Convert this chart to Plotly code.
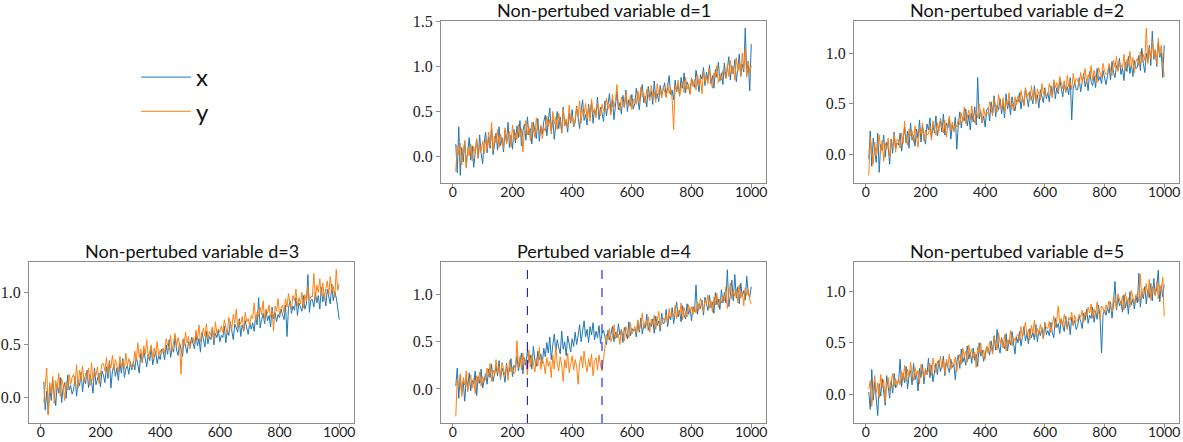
import plotly.graph_objects as go

# time index (every 5th step of the 1000-step series)
t = list(range(10, 1001, 5))

titles = ["Non-pertubed variable d=1", "Non-pertubed variable d=2",
          "Non-pertubed variable d=3", "Pertubed variable d=4",
          "Non-pertubed variable d=5"]
series_names = ["x", "y"]
x_ticks = [0, 200, 400, 600, 800, 1000]
perturb_bounds = [250, 500]

d1_x = [0.14, -0.18, 0.33, -0.21, 0.10, -0.06, 0.17, -0.10, 0.05, 0.21, -0.04, 0.12, -0.12, 0.08, 0.19, -0.02, 0.24, 0.03, -0.08, 0.15,
        0.27, 0.04, 0.22, 0.09, 0.31, 0.02, 0.18, 0.26, 0.07, 0.33, 0.12, 0.21, 0.05, 0.29, 0.16, 0.38, 0.10, 0.24, 0.08, 0.30,
        0.15, 0.34, 0.21, 0.40, 0.12, 0.29, 0.36, 0.18, 0.44, 0.24, 0.31, 0.14, 0.38, 0.27, 0.20, 0.42, 0.17, 0.33, 0.25, 0.39,
        0.46, 0.23, 0.39, 0.54, 0.28, 0.41, 0.19, 0.36, 0.50, 0.31, 0.44, 0.26, 0.55, 0.34, 0.40, 0.27, 0.48, 0.37, 0.52, 0.33,
        0.38, 0.56, 0.42, 0.31, 0.51, 0.63, 0.40, 0.47, 0.35, 0.58, 0.44, 0.61, 0.37, 0.53, 0.46, 0.66, 0.41, 0.55, 0.49, 0.39,
        0.62, 0.45, 0.58, 0.70, 0.49, 0.64, 0.41, 0.57, 0.72, 0.52, 0.60, 0.47, 0.68, 0.55, 0.74, 0.50, 0.63, 0.56, 0.69, 0.53,
        0.59, 0.76, 0.63, 0.52, 0.71, 0.80, 0.60, 0.67, 0.55, 0.78, 0.66, 0.73, 0.58, 0.84, 0.64, 0.70, 0.61, 0.79, 0.68, 0.75,
        0.82, 0.66, 0.77, 0.90, 0.69, 0.74, 0.63, 0.85, 0.72, 0.80, 0.67, 0.88, 0.76, 0.93, 0.71, 0.83, 0.78, 0.70, 0.87, 0.81,
        0.77, 0.96, 0.83, 0.72, 0.91, 0.86, 0.99, 0.79, 0.94, 0.85, 1.02, 0.81, 0.90, 0.76, 0.97, 0.88, 1.05, 0.84, 0.93, 0.80,
        1.04, 0.87, 0.98, 1.11, 0.85, 1.01, 0.92, 1.08, 0.83, 0.97, 1.14, 0.89, 1.03, 0.94, 1.43, 0.91, 1.06, 0.73, 1.25]
d1_y = [-0.17, 0.12, 0.02, 0.15, -0.09, 0.07, 0.18, -0.13, 0.09, 0.01, 0.14, -0.05, 0.11, 0.04, 0.20, -0.02, 0.13, 0.06, 0.17, 0.03,
        0.19, 0.08, 0.27, 0.12, 0.38, 0.06, 0.23, 0.15, 0.30, 0.10, 0.25, 0.17, 0.09, 0.32, 0.14, 0.22, 0.28, 0.11, 0.35, 0.18,
        0.26, 0.19, 0.36, 0.22, 0.31, 0.05, 0.29, 0.40, 0.24, 0.33, 0.17, 0.38, 0.27, 0.21, 0.43, 0.30, 0.25, 0.35, 0.20, 0.32,
        0.28, 0.45, 0.33, 0.41, 0.25, 0.50, 0.36, 0.44, 0.30, 0.48, 0.39, 0.27, 0.53, 0.35, 0.42, 0.32, 0.57, 0.38, 0.46, 0.34,
        0.41, 0.55, 0.44, 0.62, 0.37, 0.52, 0.47, 0.59, 0.42, 0.56, 0.39, 0.64, 0.48, 0.53, 0.43, 0.60, 0.50, 0.45, 0.58, 0.51,
        0.49, 0.65, 0.53, 0.58, 0.46, 0.69, 0.55, 0.62, 0.80, 0.57, 0.51, 0.66, 0.59, 0.54, 0.71, 0.60, 0.56, 0.68, 0.52, 0.63,
        0.64, 0.58, 0.73, 0.61, 0.77, 0.66, 0.70, 0.59, 0.75, 0.68, 0.62, 0.79, 0.67, 0.72, 0.60, 0.81, 0.69, 0.74, 0.65, 0.78,
        0.73, 0.66, 0.81, 0.70, 0.76, 0.64, 0.30, 0.79, 0.72, 0.85, 0.68, 0.77, 0.83, 0.71, 0.88, 0.75, 0.80, 0.69, 0.86, 0.78,
        0.86, 0.74, 0.91, 0.79, 0.87, 0.70, 0.95, 0.83, 0.89, 0.81, 0.98, 0.84, 0.76, 0.93, 0.88, 1.01, 0.82, 0.90, 0.85, 0.96,
        0.94, 0.87, 1.02, 0.89, 1.07, 0.92, 0.99, 0.85, 1.10, 0.95, 1.04, 0.90, 1.15, 0.97, 1.20, 0.88, 1.05, 0.93, 1.01]

d2_x = [-0.05, 0.23, -0.12, 0.16, 0.02, -0.08, 0.21, -0.18, 0.10, 0.04, 0.19, -0.03, 0.12, 0.07, -0.10, 0.15, 0.01, 0.22, 0.06, 0.11,
        0.09, 0.21, 0.03, 0.17, 0.27, 0.11, 0.23, 0.06, 0.31, 0.14, 0.19, 0.08, 0.25, 0.16, 0.34, 0.12, 0.28, 0.18, 0.10, 0.30,
        0.24, 0.36, 0.16, 0.29, 0.21, 0.38, 0.18, 0.27, 0.33, 0.22, 0.40, 0.19, 0.31, 0.26, 0.35, 0.15, 0.29, 0.23, 0.37, 0.05,
        0.30, 0.42, 0.26, 0.37, 0.33, 0.45, 0.28, 0.39, 0.24, 0.41, 0.32, 0.47, 0.29, 0.76, 0.35, 0.43, 0.31, 0.38, 0.27, 0.44,
        0.46, 0.33, 0.52, 0.41, 0.58, 0.37, 0.49, 0.44, 0.55, 0.40, 0.51, 0.36, 0.60, 0.45, 0.53, 0.39, 0.57, 0.48, 0.43, 0.54,
        0.52, 0.61, 0.45, 0.57, 0.49, 0.65, 0.54, 0.47, 0.62, 0.56, 0.50, 0.68, 0.53, 0.59, 0.46, 0.64, 0.58, 0.51, 0.66, 0.55,
        0.61, 0.52, 0.68, 0.58, 0.72, 0.55, 0.66, 0.60, 0.74, 0.63, 0.57, 0.70, 0.62, 0.67, 0.59, 0.76, 0.34, 0.65, 0.71, 0.64,
        0.64, 0.76, 0.62, 0.71, 0.80, 0.67, 0.74, 0.63, 0.82, 0.72, 0.68, 0.78, 0.66, 0.85, 0.73, 0.77, 0.70, 0.83, 0.75, 0.69,
        0.78, 0.87, 0.74, 0.92, 0.81, 0.76, 0.88, 0.84, 0.95, 0.79, 0.86, 0.73, 0.91, 0.82, 0.97, 0.80, 0.89, 0.77, 0.93, 0.85,
        0.86, 0.98, 0.83, 1.05, 0.90, 0.81, 1.00, 0.92, 1.08, 0.88, 1.22, 0.94, 1.03, 0.87, 1.10, 0.96, 1.01, 0.76, 1.08]
d2_y = [-0.21, 0.17, 0.03, -0.10, 0.12, -0.02, 0.09, 0.19, 0.01, 0.14, -0.07, 0.11, 0.05, 0.16, -0.04, 0.13, 0.08, 0.20, 0.02, 0.15,
        0.14, 0.06, 0.21, 0.11, 0.33, 0.15, 0.09, 0.25, 0.18, 0.23, 0.12, 0.28, 0.17, 0.07, 0.26, 0.20, 0.31, 0.13, 0.24, 0.19,
        0.20, 0.28, 0.14, 0.33, 0.25, 0.19, 0.31, 0.23, 0.36, 0.26, 0.21, 0.34, 0.17, 0.29, 0.38, 0.24, 0.32, 0.22, 0.30, 0.27,
        0.35, 0.29, 0.41, 0.33, 0.47, 0.30, 0.39, 0.44, 0.34, 0.48, 0.37, 0.31, 0.43, 0.36, 0.50, 0.40, 0.32, 0.46, 0.38, 0.42,
        0.40, 0.52, 0.45, 0.38, 0.55, 0.47, 0.42, 0.59, 0.50, 0.44, 0.56, 0.41, 0.53, 0.48, 0.61, 0.46, 0.51, 0.43, 0.57, 0.49,
        0.58, 0.51, 0.63, 0.55, 0.48, 0.66, 0.57, 0.61, 0.53, 0.68, 0.56, 0.62, 0.50, 0.65, 0.59, 0.54, 0.70, 0.60, 0.64, 0.57,
        0.59, 0.70, 0.63, 0.56, 0.74, 0.66, 0.71, 0.62, 0.77, 0.69, 0.65, 0.73, 0.61, 0.78, 0.67, 0.72, 0.64, 0.80, 0.70, 0.75,
        0.74, 0.68, 0.81, 0.72, 0.77, 0.85, 0.70, 0.79, 0.75, 0.88, 0.73, 0.83, 0.78, 0.71, 0.86, 0.80, 0.76, 0.90, 0.82, 0.79,
        0.80, 0.90, 0.84, 0.78, 0.93, 0.86, 0.97, 0.82, 0.91, 0.89, 0.85, 0.99, 0.83, 0.94, 0.88, 1.02, 0.87, 0.96, 0.81, 0.92,
        0.95, 0.88, 1.02, 0.91, 0.99, 0.93, 1.25, 0.90, 1.06, 0.94, 1.12, 0.97, 1.04, 0.89, 1.15, 0.98, 1.08, 0.92, 0.77]

d3_x = [0.15, -0.12, 0.06, -0.16, 0.10, -0.03, 0.17, 0.02, -0.08, 0.12, 0.04, 0.19, -0.05, 0.09, 0.14, -0.01, 0.21, 0.07, 0.11, 0.03,
        0.07, 0.20, 0.01, 0.16, 0.11, 0.24, 0.05, 0.19, 0.13, 0.26, 0.09, 0.22, 0.15, 0.04, 0.28, 0.12, 0.18, 0.23, 0.10, 0.25,
        0.21, 0.14, 0.29, 0.18, 0.35, 0.09, 0.25, 0.31, 0.20, 0.28, 0.16, 0.33, 0.23, 0.37, 0.19, 0.27, 0.30, 0.22, 0.34, 0.26,
        0.34, 0.26, 0.39, 0.30, 0.23, 0.42, 0.33, 0.45, 0.37, 0.29, 0.41, 0.35, 0.48, 0.31, 0.38, 0.44, 0.32, 0.40, 0.36, 0.46,
        0.44, 0.36, 0.50, 0.41, 0.55, 0.38, 0.47, 0.43, 0.58, 0.45, 0.40, 0.52, 0.46, 0.39, 0.56, 0.48, 0.42, 0.53, 0.49, 0.57,
        0.52, 0.46, 0.60, 0.49, 0.56, 0.43, 0.62, 0.54, 0.48, 0.63, 0.51, 0.58, 0.55, 0.66, 0.50, 0.61, 0.57, 0.64, 0.53, 0.59,
        0.57, 0.68, 0.52, 0.64, 0.59, 0.72, 0.61, 0.55, 0.70, 0.66, 0.62, 0.75, 0.58, 0.69, 0.63, 0.73, 0.67, 0.60, 0.71, 0.65,
        0.71, 0.63, 0.77, 0.69, 0.95, 0.66, 0.74, 0.80, 0.70, 0.83, 0.73, 0.78, 0.67, 0.86, 0.75, 0.81, 0.72, 0.79, 0.76, 0.84,
        0.79, 0.74, 0.88, 0.58, 0.85, 0.92, 0.80, 0.87, 0.83, 0.95, 0.78, 0.90, 0.86, 0.82, 0.97, 0.84, 0.89, 1.17, 0.81, 0.93,
        0.93, 0.86, 1.00, 0.90, 0.97, 0.84, 1.05, 0.91, 0.99, 0.87, 1.03, 0.96, 0.89, 1.08, 0.92, 1.01, 0.95, 0.85, 0.74]
d3_y = [-0.05, 0.10, 0.28, -0.17, 0.14, 0.04, 0.20, -0.06, 0.16, 0.08, 0.23, 0.01, 0.18, 0.11, -0.03, 0.15, 0.07, 0.22, 0.12, 0.19,
        0.22, 0.12, 0.31, 0.09, 0.26, 0.17, 0.30, 0.14, 0.23, 0.19, 0.28, 0.11, 0.33, 0.16, 0.25, 0.21, 0.29, 0.13, 0.24, 0.32,
        0.32, 0.25, 0.38, 0.22, 0.34, 0.28, 0.40, 0.26, 0.36, 0.31, 0.24, 0.39, 0.29, 0.35, 0.27, 0.42, 0.30, 0.37, 0.33, 0.28,
        0.30, 0.44, 0.35, 0.52, 0.38, 0.46, 0.33, 0.49, 0.41, 0.55, 0.37, 0.43, 0.50, 0.36, 0.47, 0.40, 0.53, 0.39, 0.45, 0.42,
        0.47, 0.42, 0.56, 0.50, 0.45, 0.59, 0.44, 0.53, 0.61, 0.48, 0.57, 0.51, 0.22, 0.55, 0.49, 0.62, 0.52, 0.58, 0.46, 0.54,
        0.57, 0.51, 0.64, 0.55, 0.69, 0.53, 0.60, 0.66, 0.58, 0.70, 0.56, 0.63, 0.59, 0.67, 0.54, 0.72, 0.61, 0.65, 0.62, 0.68,
        0.62, 0.74, 0.67, 0.60, 0.76, 0.69, 0.65, 0.79, 0.71, 0.84, 0.66, 0.73, 0.70, 0.77, 0.64, 0.81, 0.72, 0.75, 0.68, 0.78,
        0.75, 0.90, 0.73, 0.81, 0.77, 0.86, 0.79, 0.92, 0.74, 0.84, 0.80, 0.88, 0.76, 0.83, 0.63, 0.87, 0.82, 0.94, 0.78, 0.85,
        0.88, 0.81, 0.94, 0.86, 0.99, 0.90, 0.84, 0.97, 0.92, 1.03, 0.87, 0.95, 0.89, 1.00, 0.85, 0.98, 0.91, 1.06, 0.93, 0.96,
        0.96, 1.18, 0.93, 1.07, 1.00, 1.13, 0.97, 1.09, 0.94, 1.04, 1.11, 0.98, 1.15, 1.01, 1.06, 0.95, 1.22, 1.02, 1.08]

d4_x = [0.03, 0.22, -0.10, 0.14, -0.05, 0.08, -0.13, 0.11, 0.02, 0.17, -0.02, 0.09, 0.05, 0.19, -0.07, 0.13, 0.06, 0.21, 0.01, 0.10,
        0.16, 0.05, 0.21, 0.12, 0.26, 0.08, 0.18, 0.24, 0.14, 0.30, 0.10, 0.22, 0.17, 0.07, 0.27, 0.15, 0.20, 0.32, 0.13, 0.25,
        0.22, 0.35, 0.19, 0.29, 0.38, 0.16, 0.33, 0.25, 0.41, 0.28, 0.36, 0.21, 0.45, 0.30, 0.24, 0.40, 0.31, 0.37, 0.27, 0.43,
        0.34, 0.49, 0.38, 0.55, 0.31, 0.46, 0.58, 0.40, 0.52, 0.44, 0.37, 0.61, 0.42, 0.50, 0.35, 0.56, 0.47, 0.39, 0.53, 0.45,
        0.60, 0.47, 0.56, 0.68, 0.50, 0.64, 0.72, 0.55, 0.63, 0.49, 0.66, 0.57, 0.70, 0.52, 0.61, 0.54, 0.67, 0.48, 0.59, 0.62,
        0.55, 0.47, 0.62, 0.52, 0.58, 0.66, 0.50, 0.60, 0.54, 0.69, 0.57, 0.63, 0.49, 0.65, 0.59, 0.53, 0.71, 0.56, 0.64, 0.61,
        0.63, 0.55, 0.71, 0.60, 0.75, 0.58, 0.68, 0.64, 0.79, 0.62, 0.70, 0.66, 0.74, 0.59, 0.77, 0.67, 0.72, 0.61, 0.80, 0.69,
        0.70, 0.84, 0.66, 0.77, 0.73, 0.86, 0.69, 0.80, 0.92, 0.76, 0.83, 0.71, 0.88, 0.78, 0.74, 0.90, 0.79, 0.85, 0.72, 0.87,
        0.82, 1.10, 0.79, 0.90, 0.85, 0.94, 0.78, 0.97, 0.88, 0.83, 0.99, 0.86, 0.92, 0.80, 1.02, 0.89, 0.95, 0.84, 1.05, 0.91,
        1.02, 0.91, 1.26, 0.87, 0.99, 1.15, 0.93, 1.21, 0.96, 1.08, 0.90, 1.12, 0.98, 1.04, 0.94, 1.19, 1.01, 0.97, 1.08]
d4_y = [-0.29, 0.09, 0.02, 0.16, -0.08, 0.12, 0.04, 0.19, -0.03, 0.07, 0.15, 0.01, 0.11, -0.05, 0.14, 0.06, 0.18, 0.03, 0.13, 0.08,
        0.10, 0.22, 0.13, 0.27, 0.08, 0.20, 0.15, 0.31, 0.17, 0.24, 0.11, 0.28, 0.19, 0.14, 0.25, 0.09, 0.30, 0.18, 0.23, 0.16,
        0.19, 0.51, 0.22, 0.34, 0.20, 0.38, 0.26, 0.30, 0.15, 0.41, 0.23, 0.36, 0.28, 0.18, 0.33, 0.24, 0.44, 0.21, 0.31, 0.27,
        0.16, 0.33, 0.24, 0.29, 0.12, 0.36, 0.21, 0.45, 0.27, 0.19, 0.34, 0.25, 0.08, 0.31, 0.22, 0.38, 0.17, 0.28, 0.35, 0.20,
        0.31, 0.24, 0.05, 0.28, 0.35, 0.22, 0.40, 0.26, 0.18, 0.32, 0.23, 0.37, 0.14, 0.29, 0.33, 0.20, 0.36, 0.25, 0.19, 0.32,
        0.49, 0.58, 0.52, 0.64, 0.50, 0.55, 0.68, 0.53, 0.61, 0.57, 0.47, 0.63, 0.56, 0.51, 0.66, 0.59, 0.54, 0.70, 0.58, 0.62,
        0.66, 0.59, 0.73, 0.62, 0.69, 0.80, 0.64, 0.71, 0.67, 0.76, 0.60, 0.74, 0.68, 0.78, 0.63, 0.72, 0.82, 0.65, 0.70, 0.75,
        0.72, 0.79, 0.70, 0.85, 0.75, 0.81, 0.77, 0.88, 0.74, 0.83, 0.78, 0.91, 0.73, 0.86, 0.80, 0.76, 0.89, 0.82, 0.87, 0.79,
        0.87, 0.80, 0.92, 0.84, 0.96, 0.88, 0.82, 0.94, 0.90, 0.99, 0.85, 0.93, 0.81, 0.97, 0.89, 1.01, 0.86, 0.95, 0.91, 0.98,
        0.93, 1.08, 0.85, 1.00, 1.12, 0.95, 1.04, 0.98, 1.06, 0.91, 1.10, 0.96, 1.02, 0.88, 1.07, 0.99, 1.05, 0.94, 0.90]

d5_x = [0.02, -0.15, 0.24, -0.06, 0.12, -0.09, -0.21, 0.10, -0.02, 0.15, 0.04, -0.11, 0.18, 0.07, -0.04, 0.13, 0.01, 0.20, 0.06, 0.09,
        0.13, 0.34, 0.07, 0.20, 0.11, 0.27, 0.05, 0.18, 0.23, 0.09, 0.30, 0.14, 0.21, 0.03, 0.25, 0.16, 0.29, 0.10, 0.24, 0.19,
        0.35, 0.16, 0.28, 0.12, 0.24, 0.30, 0.19, 0.33, 0.22, 0.27, 0.37, 0.18, 0.31, 0.25, 0.21, 0.34, 0.26, 0.29, 0.14, 0.32,
        0.38, 0.25, 0.44, 0.31, 0.36, 0.28, 0.47, 0.34, 0.41, 0.30, 0.45, 0.33, 0.39, 0.27, 0.50, 0.37, 0.43, 0.32, 0.40, 0.46,
        0.45, 0.38, 0.52, 0.41, 0.57, 0.43, 0.63, 0.46, 0.40, 0.55, 0.49, 0.44, 0.59, 0.42, 0.53, 0.48, 0.61, 0.47, 0.39, 0.56,
        0.50, 0.61, 0.47, 0.56, 0.66, 0.52, 0.59, 0.49, 0.64, 0.55, 0.60, 0.53, 0.68, 0.51, 0.62, 0.57, 0.65, 0.54, 0.70, 0.58,
        0.62, 0.57, 0.70, 0.60, 0.55, 0.74, 0.65, 0.69, 0.59, 0.73, 0.66, 0.61, 0.76, 0.64, 0.71, 0.58, 0.75, 0.67, 0.72, 0.63,
        0.67, 0.76, 0.71, 0.64, 0.79, 0.72, 0.83, 0.69, 0.77, 0.74, 0.85, 0.70, 0.81, 0.73, 0.87, 0.75, 0.40, 0.78, 0.82, 0.77,
        0.85, 0.79, 0.90, 0.74, 0.88, 1.10, 0.82, 0.95, 0.86, 0.91, 0.80, 0.97, 0.84, 0.92, 0.78, 1.00, 0.87, 0.93, 0.83, 0.96,
        0.89, 1.18, 0.85, 0.99, 0.93, 1.05, 0.88, 1.02, 0.94, 1.08, 0.91, 1.13, 0.97, 1.04, 1.21, 0.90, 1.06, 0.95, 1.07]
d5_y = [0.05, 0.13, -0.12, 0.08, 0.18, 0.01, 0.11, -0.04, 0.19, 0.06, 0.14, -0.08, 0.10, 0.16, 0.03, 0.12, 0.20, 0.07, 0.15, 0.09,
        0.15, 0.09, 0.22, 0.14, 0.28, 0.12, 0.24, 0.17, 0.31, 0.20, 0.13, 0.26, 0.18, 0.23, 0.10, 0.29, 0.21, 0.16, 0.25, 0.19,
        0.23, 0.30, 0.18, 0.35, 0.26, 0.21, 0.32, 0.28, 0.37, 0.25, 0.33, 0.20, 0.34, 0.27, 0.39, 0.24, 0.31, 0.29, 0.36, 0.22,
        0.33, 0.39, 0.29, 0.45, 0.36, 0.42, 0.31, 0.48, 0.38, 0.44, 0.35, 0.41, 0.26, 0.46, 0.40, 0.50, 0.37, 0.43, 0.34, 0.47,
        0.40, 0.51, 0.46, 0.39, 0.56, 0.48, 0.43, 0.60, 0.50, 0.54, 0.45, 0.58, 0.42, 0.53, 0.49, 0.62, 0.47, 0.55, 0.52, 0.57,
        0.58, 0.52, 0.66, 0.55, 0.62, 0.70, 0.57, 0.63, 0.53, 0.67, 0.60, 0.72, 0.56, 0.64, 0.59, 0.68, 0.61, 0.54, 0.69, 0.65,
        0.64, 0.71, 0.60, 0.68, 0.76, 0.65, 0.73, 0.86, 0.69, 0.74, 0.66, 0.78, 0.70, 0.63, 0.75, 0.72, 0.80, 0.67, 0.77, 0.71,
        0.72, 0.78, 0.75, 0.82, 0.70, 0.80, 0.76, 0.85, 0.79, 0.88, 0.74, 0.83, 0.77, 0.90, 0.81, 0.73, 0.86, 0.84, 0.79, 0.87,
        0.83, 0.91, 0.86, 0.80, 0.95, 0.89, 0.84, 0.98, 0.92, 0.87, 0.96, 0.82, 0.99, 0.90, 0.94, 0.85, 1.01, 0.93, 0.88, 0.97,
        0.97, 0.90, 1.17, 0.94, 1.03, 0.99, 1.08, 0.95, 1.12, 0.92, 1.05, 1.00, 0.96, 1.10, 0.93, 1.06, 1.02, 1.14, 0.76]

panels = [(d1_x, d1_y), (d2_x, d2_y), (d3_x, d3_y), (d4_x, d4_y), (d5_x, d5_y)]
for a, b in panels:
    assert len(a) == len(t) and len(b) == len(t), (len(a), len(b), len(t))

W, H = 1183, 442
# pixel frames of the five axes: (left, right, top, bottom)
frames = [(441, 766, 21, 183), (854, 1179, 21, 183),
          (29, 354, 262, 423), (441, 766, 262, 423), (854, 1179, 262, 423)]
y_ranges = [[-0.295, 1.507], [-0.285, 1.321], [-0.245, 1.29],
            [-0.36, 1.342], [-0.283, 1.29]]
colors = ["#1f77b4", "#ff7f0e"]
spine = "#8c8c8c"
serif = "Liberation Serif"
sans = "Lato"

fig = go.Figure()
layout = dict(width=W, height=H, margin=dict(l=0, r=0, t=0, b=0, autoexpand=False),
              paper_bgcolor="white", plot_bgcolor="white",
              showlegend=True)
annotations = []
shapes = []
for i, (sx, sy) in enumerate(panels):
    k = "" if i == 0 else str(i + 1)
    for j, vals in enumerate((sx, sy)):
        fig.add_trace(go.Scatter(x=t, y=vals, mode="lines", name=series_names[j],
                                 line=dict(color=colors[j], width=1),
                                 xaxis="x" + k, yaxis="y" + k,
                                 showlegend=(i == 0), hoverinfo="skip"))
    l, r, tp, b = frames[i]
    layout["xaxis" + k] = dict(domain=[l / W, r / W], anchor="y" + k,
                               range=[-39.5, 1049.5], tickvals=x_ticks,
                               automargin=False, ticklabelstandoff=-8,
                               showgrid=False, zeroline=False, showline=True,
                               mirror=True, linecolor=spine, linewidth=1,
                               ticks="outside", ticklen=4, tickcolor=spine,
                               tickfont=dict(family=sans, size=14, color="#222"))
    layout["yaxis" + k] = dict(domain=[1 - b / H, 1 - tp / H], anchor="x" + k,
                               range=y_ranges[i], dtick=0.5, tick0=0,
                               tickformat=".1f", automargin=False,
                               showgrid=False, zeroline=False, showline=True,
                               mirror=True, linecolor=spine, linewidth=1,
                               ticks="outside", ticklen=4, tickcolor=spine,
                               tickfont=dict(family=serif, size=16, color="#222"))
    annotations.append(dict(text=titles[i], xref="paper", yref="paper",
                            x=(l + r) / 2 / W, y=1 - tp / H, xanchor="center",
                            yanchor="bottom", showarrow=False, yshift=-2,
                            font=dict(family=sans, size=18, color="#111")))

for xb in perturb_bounds:
    shapes.append(dict(type="line", xref="x4", yref="y4 domain", x0=xb, x1=xb,
                       y0=0, y1=1, line=dict(color="blue", width=1, dash="dash")))

layout["annotations"] = annotations
layout["shapes"] = shapes
layout["legend"] = dict(x=136 / W, y=1 - 55 / H, xanchor="left", yanchor="top",
                        font=dict(family=sans, size=24, color="#111"),
                        bgcolor="rgba(0,0,0,0)", itemwidth=50)
fig.update_layout(**layout)
fig.write_html("out.html", config={"displayModeBar": False},
               post_script="document.body.style.margin='0';document.body.style.padding='0';")
